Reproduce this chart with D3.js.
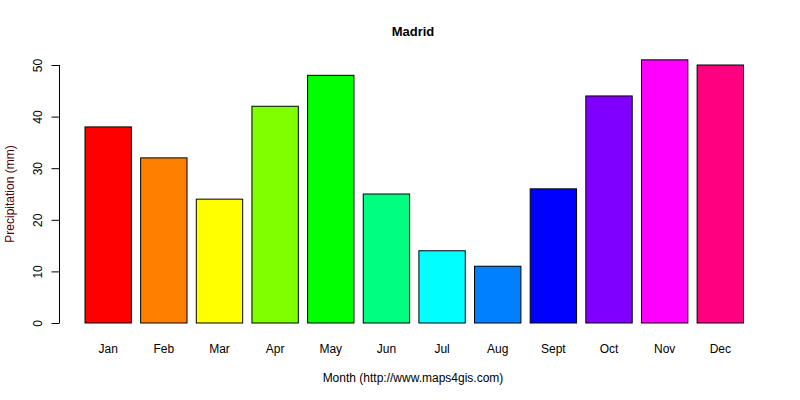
<!DOCTYPE html>
<html>
<head>
<meta charset="utf-8">
<script src="https://cdn.jsdelivr.net/npm/d3@7"></script>
<style>
  body { margin: 0; background: #fff; }
  text { font-family: "Liberation Sans", Arial, sans-serif; }
</style>
</head>
<body>
<div id="chart"></div>
<script>
"use strict";

// monthly precipitation for Madrid
const months = ["Jan", "Feb", "Mar", "Apr", "May", "Jun", "Jul", "Aug", "Sept", "Oct", "Nov", "Dec"];
const precipitation = [38, 32, 24, 42, 48, 25, 14, 11, 26, 44, 51, 50];
const barColors = ["#FF0000", "#FF8000", "#FFFF00", "#80FF00", "#00FF00", "#00FF80",
                   "#00FFFF", "#0080FF", "#0000FF", "#8000FF", "#FF00FF", "#FF0080"];
const yTicks = [0, 10, 20, 30, 40, 50];

const width = 800, height = 400;

const svg = d3.select("#chart")
  .append("svg")
    .attr("width", width)
    .attr("height", height);

// x band scale: bars 46px wide, 55.65px step
const x = d3.scaleBand()
  .domain(months)
  .range([85, 743.5])
  .paddingInner(1 / 6)
  .paddingOuter(0);

const y = d3.scaleLinear()
  .domain([0, 50])
  .range([323, 65]);

// bars
svg.append("g")
  .selectAll("rect")
  .data(months)
  .enter()
  .append("rect")
    .attr("x", d => x(d))
    .attr("y", (d, i) => y(precipitation[i]))
    .attr("width", x.bandwidth())
    .attr("height", (d, i) => y(0) - y(precipitation[i]))
    .attr("fill", (d, i) => barColors[i])
    .attr("stroke", "#000")
    .attr("stroke-width", 1);

// y axis
const yAxis = svg.append("g")
  .attr("transform", "translate(59.5,0)")
  .call(d3.axisLeft(y).tickValues(yTicks).tickSize(8).tickPadding(0).tickFormat(d3.format("d")));
yAxis.select(".domain").attr("stroke", "#000").attr("d", "M0," + y(50) + "V" + y(0));
yAxis.selectAll(".tick line").attr("stroke", "#000");
yAxis.selectAll(".tick text")
  .attr("font-size", 12)
  .attr("fill", "#000")
  .attr("text-anchor", "middle")
  .attr("transform", "translate(-22,0) rotate(-90)")
  .attr("x", 0)
  .attr("dy", "0.35em");

// month labels
svg.append("g")
  .selectAll("text")
  .data(months)
  .enter()
  .append("text")
    .attr("x", d => x(d) + x.bandwidth() / 2)
    .attr("y", 353)
    .attr("text-anchor", "middle")
    .attr("font-size", 12)
    .attr("fill", "#000")
    .text(d => d);

// title
svg.append("text")
  .attr("x", 413)
  .attr("y", 36)
  .attr("text-anchor", "middle")
  .attr("font-size", 13)
  .attr("font-weight", "bold")
  .attr("fill", "#000")
  .text("Madrid");

// axis titles
svg.append("text")
  .attr("x", 413)
  .attr("y", 382)
  .attr("text-anchor", "middle")
  .attr("font-size", 12)
  .attr("fill", "#000")
  .text("Month (http://www.maps4gis.com)");

svg.append("text")
  .attr("transform", "translate(14,194) rotate(-90)")
  .attr("text-anchor", "middle")
  .attr("font-size", 12)
  .attr("fill", "#4d0000")
  .text("Precipitation (mm)");
</script>
</body>
</html>
